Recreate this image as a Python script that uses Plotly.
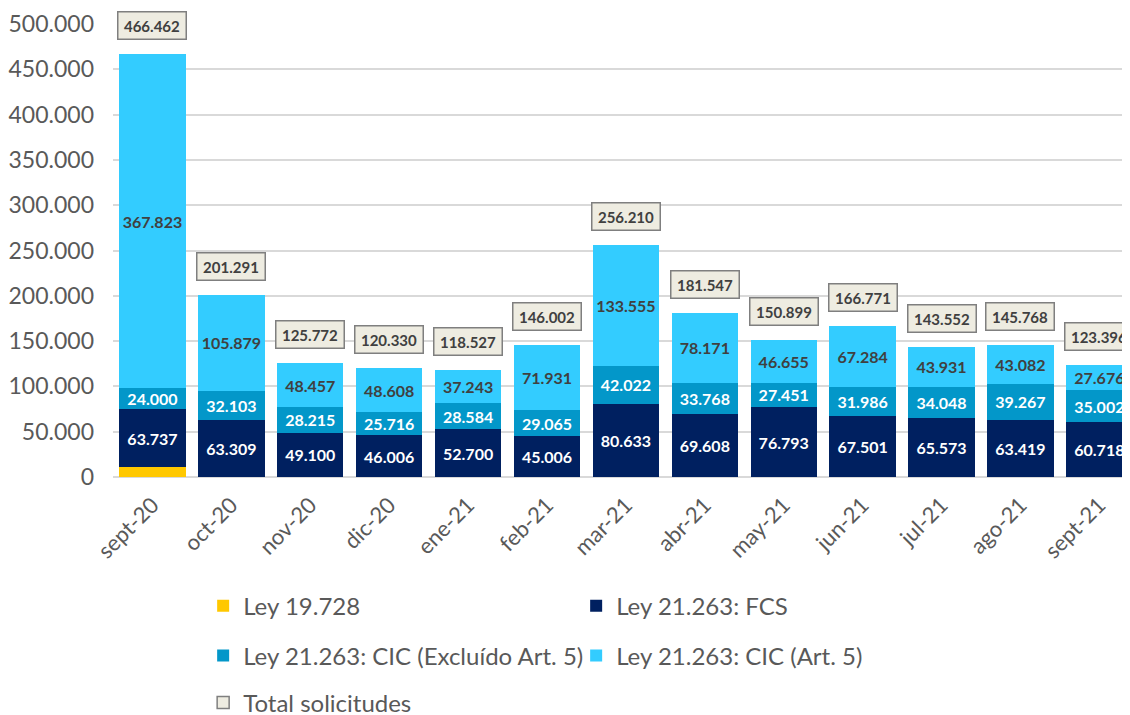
import plotly.graph_objects as go

meses = ["sept-20", "oct-20", "nov-20", "dic-20", "ene-21", "feb-21", "mar-21",
         "abr-21", "may-21", "jun-21", "jul-21", "ago-21", "sept-21"]
ley_19728 = [10902, None, None, None, None, None, None, None, None, None, None, None, None]
fcs = [63737, 63309, 49100, 46006, 52700, 45006, 80633, 69608, 76793, 67501, 65573, 63419, 60718]
cic_excl = [24000, 32103, 28215, 25716, 28584, 29065, 42022, 33768, 27451, 31986, 34048, 39267, 35002]
cic_art5 = [367823, 105879, 48457, 48608, 37243, 71931, 133555, 78171, 46655, 67284, 43931, 43082, 27676]
totales = [466462, 201291, 125772, 120330, 118527, 146002, 256210, 181547, 150899, 166771, 143552, 145768, 123396]


def fmt(v):
    return "" if v is None else f"{v:,}".replace(",", ".")


FONT = "Lato, Open Sans, sans-serif"
GRIS = "#595959"

fig = go.Figure()

series = [
    ("Ley 19.728", ley_19728, "#ffc800", "white", False, "legend"),
    ("Ley 21.263: FCS", fcs, "#002060", "white", True, "legend"),
    ("Ley 21.263: CIC (Excluído Art. 5)", cic_excl, "#0397c9", "white", True, "legend2"),
    ("Ley 21.263: CIC (Art. 5)", cic_art5, "#33ccff", "#404040", True, "legend2"),
]
for nombre, vals, color, tcolor, etiqueta, leg in series:
    fig.add_trace(go.Bar(
        x=meses, y=vals, name=nombre, marker_color=color, marker_line_width=0,
        text=[fmt(v) for v in vals] if etiqueta else None,
        textposition="inside", insidetextanchor="middle", textangle=0,
        constraintext="none",
        textfont=dict(family=FONT, size=16, color=tcolor, weight="bold"),
        legend=leg,
    ))

# entrada de leyenda para el total
fig.add_trace(go.Bar(
    x=meses, y=[None] * len(meses), name="Total solicitudes",
    marker=dict(color="#eeece1", line=dict(color="#7f7f7f", width=1.5)),
    legend="legend3",
))

for m, t in zip(meses, totales):
    fig.add_annotation(
        x=m, y=t, text="<b>" + fmt(t) + "</b>", showarrow=False,
        yanchor="bottom", yshift=14, width=63, height=22,
        font=dict(family=FONT, size=15, color="#404040"),
        bgcolor="#eeece1", bordercolor="#7f7f7f", borderwidth=1.5, borderpad=2,
    )

leg_base = dict(orientation="h", xanchor="left", yanchor="middle", x=0.1727,
                xref="container", yref="container", traceorder="normal",
                entrywidth=328, entrywidthmode="pixels",
                font=dict(family=FONT, size=24, color=GRIS), bgcolor="rgba(0,0,0,0)")

fig.update_layout(
    width=1130, height=715,
    margin=dict(l=105, r=0, t=16, b=246, autoexpand=False),
    barmode="stack", bargap=0.16,
    plot_bgcolor="white", paper_bgcolor="white",
    font=dict(family=FONT, size=20, color=GRIS),
    showlegend=True,
    legend=dict(leg_base, y=0.1636),
    legend2=dict(leg_base, y=0.0937),
    legend3=dict(leg_base, y=0.028),
    xaxis=dict(range=[-0.5, 12.49], tickangle=-45, showgrid=False, automargin=False,
               tickfont=dict(size=22, color=GRIS), ticks="", ticklabelstandoff=10),
    yaxis=dict(range=[0, 500000], tickvals=list(range(0, 500001, 50000)),
               ticktext=[fmt(v) for v in range(0, 500001, 50000)], automargin=False,
               gridcolor="#d9d9d9", gridwidth=1.5, zeroline=True,
               zerolinecolor="#d9d9d9", zerolinewidth=1.5,
               tickfont=dict(size=23, color=GRIS), ticklabelstandoff=18),
)

fig.write_html("out.html")
